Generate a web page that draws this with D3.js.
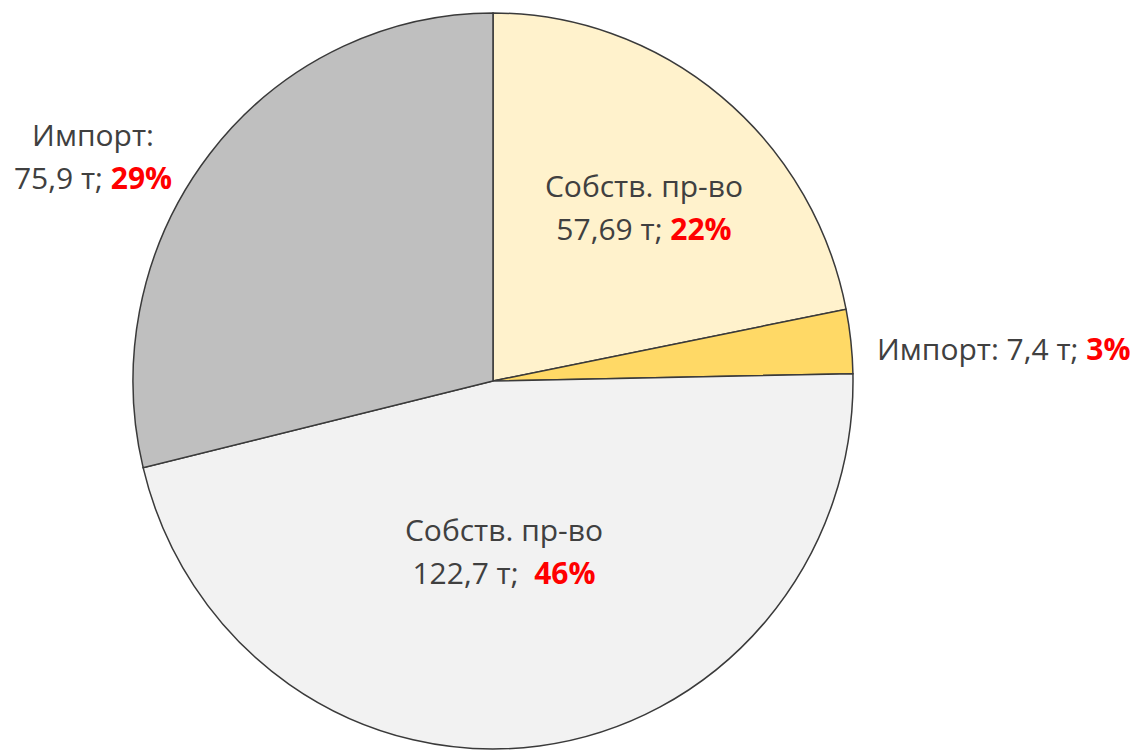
<!DOCTYPE html>
<html>
<head>
<meta charset="utf-8">
<script src="https://cdn.jsdelivr.net/npm/d3@7"></script>
<style>
  body { margin: 0; background: #fff; }
  svg { display: block; }
</style>
</head>
<body>
<svg id="chart" width="1140" height="751"></svg>
<script>
// data, clockwise from 12 o'clock
const names = ['Собств. пр-во', 'Импорт:', 'Собств. пр-во', 'Импорт:'];
const amounts = ['57,69 т;', '7,4 т;', '122,7 т; ', '75,9 т;'];
const values = [57.69, 7.4, 122.7, 75.9];
const percents = ['22%', '3%', '46%', '29%'];
const colors = ['#FFF2CC', '#FFD966', '#F2F2F2', '#BFBFBF'];

const svg = d3.select('#chart');
const cx = 493, cy = 381;
const rx = 360, ry = 368;

const pie = d3.pie().sort(null).value(d => d)(values);
const arc = d3.arc().innerRadius(0).outerRadius(rx);

const g = svg.append('g')
  .attr('transform', `translate(${cx},${cy}) scale(1,${ry / rx})`);

g.selectAll('path')
  .data(pie)
  .enter().append('path')
  .attr('d', arc)
  .attr('fill', (d, i) => colors[i])
  .attr('stroke', '#3a3a3a')
  .attr('stroke-width', 1.5)
  .attr('vector-effect', 'non-scaling-stroke');

// label placement (two lines unless inline)
const labels = [
  { x: 644, y: 197, anchor: 'middle', inline: false },
  { x: 877, y: 360, anchor: 'start', inline: true },
  { x: 504, y: 541, anchor: 'middle', inline: false },
  { x: 93, y: 146, anchor: 'middle', inline: false }
];

const font = "'Open Sans', sans-serif";
const lineGap = 43;

labels.forEach((l, i) => {
  const t = svg.append('text')
    .attr('x', l.x)
    .attr('y', l.y)
    .attr('text-anchor', l.anchor)
    .attr('font-family', font)
    .attr('font-size', 30)
    .attr('fill', '#404040')
    .style('white-space', 'pre');
  if (l.inline) {
    t.append('tspan').text(names[i] + ' ' + amounts[i] + ' ');
    t.append('tspan').attr('fill', '#FF0000').attr('font-weight', 'bold').text(percents[i]);
  } else {
    t.append('tspan').attr('x', l.x).text(names[i]);
    const t2 = t.append('tspan').attr('x', l.x).attr('dy', lineGap);
    t2.append('tspan').text(amounts[i] + ' ');
    t2.append('tspan').attr('fill', '#FF0000').attr('font-weight', 'bold').text(percents[i]);
  }
});
</script>
</body>
</html>
